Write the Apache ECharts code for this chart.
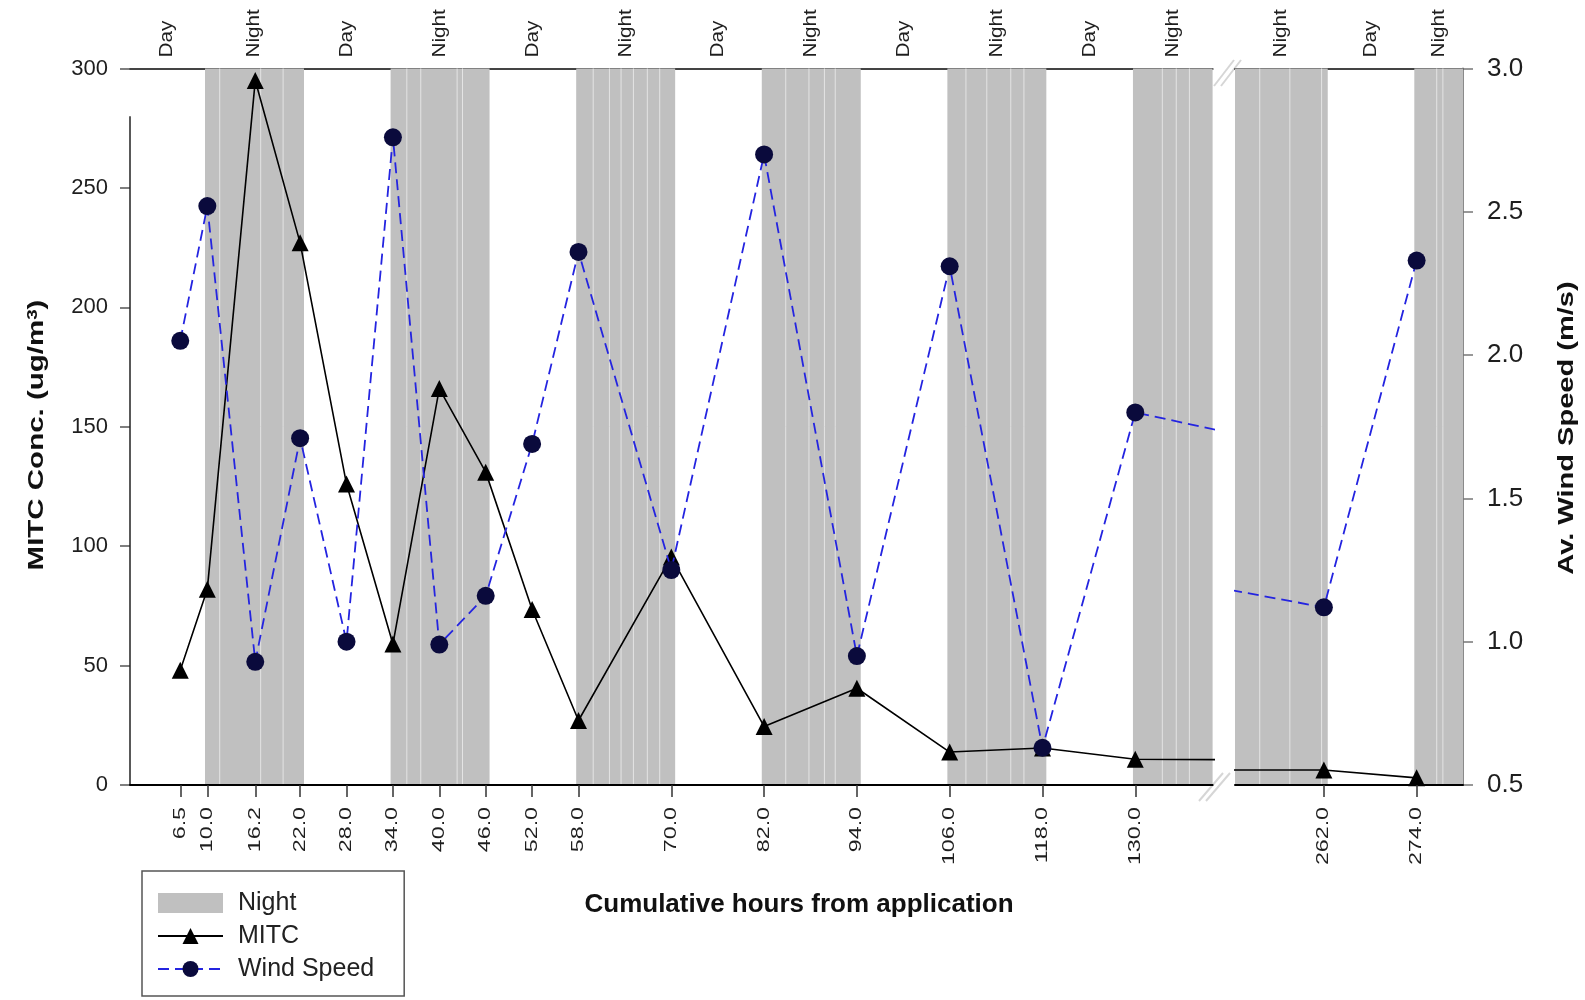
<!DOCTYPE html>
<html>
<head>
<meta charset="utf-8">
<script src="https://cdn.jsdelivr.net/npm/echarts@6/dist/echarts.min.js"></script>
<style>
  html, body { margin: 0; padding: 0; background: #fff; }
  #chart { width: 1585px; height: 1000px; }
</style>
</head>
<body>
<div id="chart"></div>
<script>
// Sampling times (cumulative hours from application), first week
const hoursEarly = [6.5, 10.0, 16.2, 22.0, 28.0, 34.0, 40.0, 46.0, 52.0, 58.0, 70.0, 82.0, 94.0, 106.0, 118.0, 130.0, 142.0];
// MITC concentration (ug/m3)
const mitcEarly = [48, 82, 295, 227, 126, 59, 166, 131, 73.5, 27, 95.5, 24.5, 40.5, 13.8, 15.5, 10.8, 10.6];
// Average wind speed (m/s)
const windEarly = [2.05, 2.52, 0.93, 1.71, 1.00, 2.76, 0.99, 1.16, 1.69, 2.36, 1.25, 2.70, 0.95, 2.31, 0.63, 1.80, 1.73];

// Sampling times after the axis break
const hoursLate = [250.0, 262.0, 274.0];
const mitcLate = [6.3, 6.3, 3.0];
const windLate = [1.18, 1.12, 2.33];

// Hours that get a tick label on each axis segment
const tickHoursEarly = [6.5, 10.0, 16.2, 22.0, 28.0, 34.0, 40.0, 46.0, 52.0, 58.0, 70.0, 82.0, 94.0, 106.0, 118.0, 130.0];
const tickHoursLate = [262.0, 274.0];

// Night periods (start / end, cumulative hours)
const nightStart = [9.7, 33.7, 57.7, 81.7, 105.7, 129.7, 249.7, 273.7];
const nightEnd = [22.5, 46.5, 70.5, 94.5, 118.5, 142.5, 262.5, 286.5];
// Light seams between the strips that make up each night band
const nightSeams = [11.6, 16.9, 19.8, 35.8, 37.6, 42.3, 43.0, 59.9, 62.0, 63.5, 65.1, 66.9, 68.5,
  84.8, 87.8, 89.8, 91.2, 108.1, 110.8, 113.9, 115.6, 133.5, 135.3, 137.0, 253.7, 257.6, 261.7, 276.6, 277.4];

// Axis ranges: broken hour axis, concentration, wind speed
const xRanges = [[0, 140], [250.5, 280]];
const mitcRange = [0, 300];
const windRange = [0.5, 3.0];
const leftSpineTop = 280;

const FONT = '"Liberation Sans", Arial, Helvetica, sans-serif';
const NIGHT_COLOR = '#c0c0c0';
const TEXT_COLOR = '#1e1e1e';

const pairs = (xs, ys) => xs.map((x, i) => [x, ys[i]]);

// Day / Night captions sit at the middle of every visible period
function periodLabels(range) {
  const out = [];
  let cursor = range[0];
  nightStart.forEach((s, i) => {
    const a = Math.max(s, range[0]);
    const b = Math.min(nightEnd[i], range[1]);
    if (b <= a) return;
    if (a > cursor) out.push({ x: (cursor + a) / 2, text: 'Day' });
    out.push({ x: (a + b) / 2, text: 'Night' });
    cursor = b;
  });
  if (cursor < range[1]) out.push({ x: (cursor + range[1]) / 2, text: 'Day' });
  return out;
}

function nightSeries(g) {
  return {
    type: 'custom', name: 'Night', xAxisIndex: g, yAxisIndex: 2 * g, z: 1, silent: true,
    itemStyle: { color: NIGHT_COLOR },
    data: nightStart.map((s, i) => [s, nightEnd[i]]),
    renderItem(params, api) {
      const cs = params.coordSys;
      const s = api.value(0), e = api.value(1);
      const p0 = api.coord([s, mitcRange[1]]);
      const p1 = api.coord([e, mitcRange[0]]);
      const a = Math.max(p0[0], cs.x), b = Math.min(p1[0], cs.x + cs.width);
      const children = [];
      if (b > a) {
        children.push({ type: 'rect', shape: { x: a, y: p0[1], width: b - a, height: p1[1] - p0[1] },
          style: { fill: NIGHT_COLOR } });
        nightSeams.filter(h => h > s && h < e).forEach(h => {
          const px = api.coord([h, 0])[0];
          if (px <= cs.x || px >= cs.x + cs.width) return;
          children.push({ type: 'line', shape: { x1: px, y1: p0[1], x2: px, y2: p1[1] },
            style: { stroke: '#e4e4e4', lineWidth: 1 } });
        });
      }
      return { type: 'group', children };
    }
  };
}

function periodLabelSeries(g) {
  const labels = periodLabels(xRanges[g]);
  return {
    type: 'custom', xAxisIndex: g, yAxisIndex: 2 * g, z: 6, silent: true, clip: false,
    data: labels.map(l => [l.x, mitcRange[1]]),
    renderItem(params, api) {
      const p = api.coord([api.value(0), api.value(1)]);
      return {
        type: 'text', x: p[0], y: p[1] - 11, rotation: Math.PI / 2, scaleX: 1.15,
        style: { text: labels[params.dataIndex].text, font: '18px ' + FONT, fill: TEXT_COLOR,
          align: 'left', verticalAlign: 'middle', textAlign: 'left', textVerticalAlign: 'middle' }
      };
    }
  };
}

function tickLabelSeries(g, ticks) {
  return {
    type: 'custom', xAxisIndex: g, yAxisIndex: 2 * g, z: 6, silent: true, clip: false,
    data: ticks.map(t => [t, mitcRange[0]]),
    renderItem(params, api) {
      const p = api.coord([api.value(0), api.value(1)]);
      return {
        type: 'text', x: p[0], y: p[1] + 22, rotation: Math.PI / 2, scaleX: 1.45,
        style: { text: api.value(0).toFixed(1), font: '16px ' + FONT, fill: TEXT_COLOR,
          align: 'right', verticalAlign: 'middle', textAlign: 'right', textVerticalAlign: 'middle' }
      };
    }
  };
}

function bottomAxis(g, ticks) {
  return {
    gridIndex: g, type: 'value', min: xRanges[g][0], max: xRanges[g][1], position: 'bottom', z: 10,
    axisLine: { show: true, onZero: false, lineStyle: { color: '#000', width: 2 } },
    axisTick: { show: true, customValues: ticks, length: 12, lineStyle: { color: '#333', width: 1.5 } },
    axisLabel: { show: false },
    splitLine: { show: false }
  };
}

function topAxis(g) {
  return {
    gridIndex: g, type: 'value', min: xRanges[g][0], max: xRanges[g][1], position: 'top', z: 0,
    axisLine: { show: true, onZero: false, lineStyle: { color: '#444', width: 2 } },
    axisTick: { show: false }, axisLabel: { show: false }, splitLine: { show: false }
  };
}

function lineSeries(name, g, yIdx, data, opts) {
  return Object.assign({
    name, type: 'line', xAxisIndex: g, yAxisIndex: yIdx, data, clip: true,
    animation: false
  }, opts);
}

const mitcStyle = {
  symbol: 'triangle', symbolSize: 17, z: 3,
  itemStyle: { color: '#000' },
  lineStyle: { color: '#000', width: 1.6 }
};
const windStyle = {
  symbol: 'circle', symbolSize: 18, z: 4,
  itemStyle: { color: '#0a0a3c' },
  lineStyle: { color: '#2424e0', width: 1.8, type: [11, 6] }
};

const chart = echarts.init(document.getElementById('chart'));

chart.setOption({
  animation: false,
  backgroundColor: '#ffffff',
  textStyle: { fontFamily: FONT },
  grid: [
    { left: 130, top: 68.5, width: 1082.6, bottom: 215 },
    { left: 1235, top: 68.5, width: 228, bottom: 215 }
  ],
  xAxis: [
    bottomAxis(0, tickHoursEarly),
    bottomAxis(1, tickHoursLate),
    topAxis(0),
    topAxis(1)
  ],
  yAxis: [
    {
      gridIndex: 0, type: 'value', min: mitcRange[0], max: mitcRange[1], interval: 50, position: 'left',
      axisLine: { show: false },
      axisTick: { show: true, length: 10, lineStyle: { color: '#555', width: 1.5 } },
      axisLabel: { fontSize: 22, color: TEXT_COLOR, margin: 22, fontFamily: FONT },
      splitLine: { show: false }
    },
    { gridIndex: 0, type: 'value', min: windRange[0], max: windRange[1], interval: 0.5, position: 'right', show: false },
    { gridIndex: 1, type: 'value', min: mitcRange[0], max: mitcRange[1], interval: 50, position: 'left', show: false },
    {
      gridIndex: 1, type: 'value', min: windRange[0], max: windRange[1], interval: 0.5, position: 'right',
      axisLine: { show: true, lineStyle: { color: '#8a8a8a', width: 2 } },
      axisTick: { show: true, length: 10, lineStyle: { color: '#777', width: 1.5 } },
      axisLabel: { fontSize: 26, color: TEXT_COLOR, margin: 24, fontFamily: FONT, formatter: v => v.toFixed(1) },
      splitLine: { show: false }
    }
  ],
  legend: {
    left: 142, top: 871, orient: 'vertical',
    data: [{ name: 'Night', icon: 'rect' }, 'MITC', 'Wind Speed'],
    itemWidth: 65, itemHeight: 20, itemGap: 7,
    padding: [19, 30, 14, 15],
    borderColor: '#555', borderWidth: 1.5, backgroundColor: '#fff',
    selectedMode: false,
    textStyle: { fontSize: 25, lineHeight: 26, color: '#222', fontFamily: FONT, padding: [0, 0, 0, 10] }
  },
  graphic: [
    {
      type: 'text', x: 799, y: 905,
      style: { text: 'Cumulative hours from application', font: 'bold 26px ' + FONT, fill: '#111',
        align: 'center', verticalAlign: 'middle' }
    },
    {
      type: 'text', x: 37, y: 435, rotation: Math.PI / 2, scaleX: 1.34,
      style: {
        text: '{t|MITC Conc. (ug/m}{s|3}{t|)}',
        rich: {
          t: { font: 'bold 22px ' + FONT, fill: '#111' },
          s: { font: 'bold 14px ' + FONT, fill: '#111', verticalAlign: 'top' }
        },
        align: 'center', verticalAlign: 'middle'
      }
    },
    {
      type: 'text', x: 1567, y: 428, rotation: Math.PI / 2, scaleX: 1.32,
      style: { text: 'Av. Wind Speed (m/s)', font: 'bold 22px ' + FONT, fill: '#111',
        align: 'center', verticalAlign: 'middle' }
    },
    // axis break marks
    { type: 'line', shape: { x1: 1199, y1: 801, x2: 1223, y2: 773 }, style: { stroke: '#d6d6d6', lineWidth: 2 } },
    { type: 'line', shape: { x1: 1206, y1: 801, x2: 1230, y2: 773 }, style: { stroke: '#d6d6d6', lineWidth: 2 } },
    { type: 'line', shape: { x1: 1214, y1: 86, x2: 1234, y2: 60 }, style: { stroke: '#d6d6d6', lineWidth: 2 } },
    { type: 'line', shape: { x1: 1221, y1: 86, x2: 1241, y2: 60 }, style: { stroke: '#d6d6d6', lineWidth: 2 } }
  ],
  series: [
    nightSeries(0),
    nightSeries(1),
    lineSeries('MITC', 0, 0, pairs(hoursEarly, mitcEarly), mitcStyle),
    lineSeries('MITC', 1, 2, pairs(hoursLate, mitcLate), mitcStyle),
    lineSeries('Wind Speed', 0, 1, pairs(hoursEarly, windEarly), windStyle),
    lineSeries('Wind Speed', 1, 3, pairs(hoursLate, windLate), windStyle),
    periodLabelSeries(0),
    periodLabelSeries(1),
    tickLabelSeries(0, tickHoursEarly),
    tickLabelSeries(1, tickHoursLate),
    {
      // left spine of the concentration axis
      type: 'custom', xAxisIndex: 0, yAxisIndex: 0, z: 6, silent: true, clip: false,
      data: [[xRanges[0][0], mitcRange[0], leftSpineTop]],
      renderItem(params, api) {
        const a = api.coord([api.value(0), api.value(1)]);
        const b = api.coord([api.value(0), api.value(2)]);
        return { type: 'line', shape: { x1: a[0], y1: a[1], x2: b[0], y2: b[1] },
          style: { stroke: '#222', lineWidth: 1.5 } };
      }
    }
  ]
});
</script>
</body>
</html>
